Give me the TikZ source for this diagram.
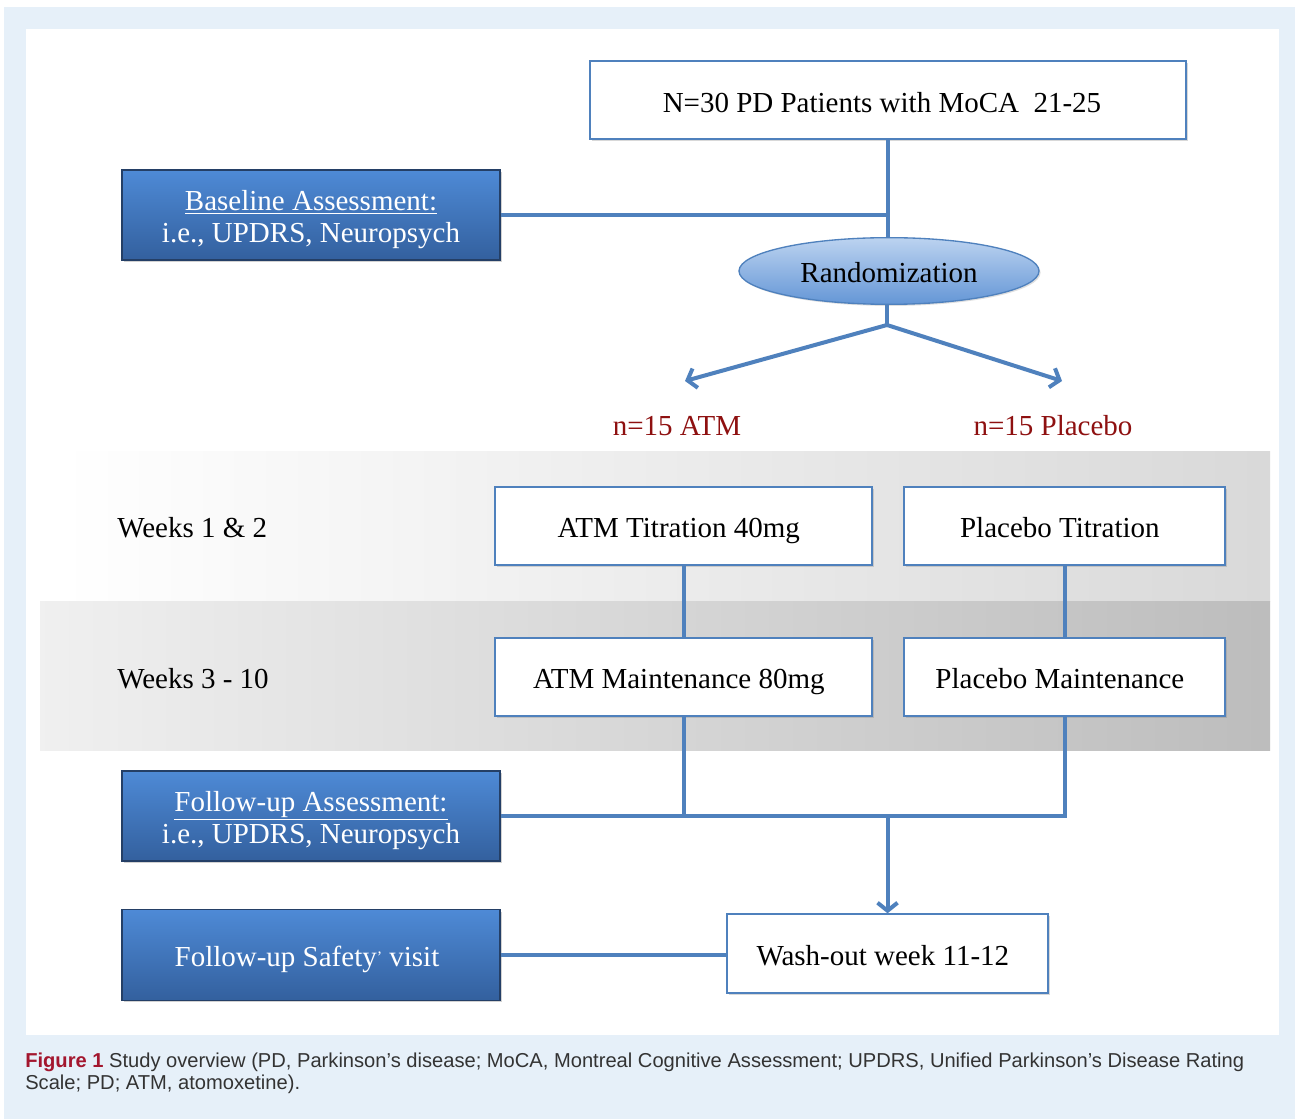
\documentclass[tikz,border=0pt]{standalone}
\usepackage{fontspec}
\setmainfont{Liberation Serif}
\newfontfamily\capfont{Liberation Sans}
\usetikzlibrary{shapes.geometric,arrows.meta,shadows,calc}
\definecolor{bgblue}{HTML}{E6F0F9}
\definecolor{lineblue}{HTML}{4F81BD}
\definecolor{darkedge}{HTML}{243F66}
\definecolor{boxtop}{HTML}{4E8AD6}
\definecolor{boxbot}{HTML}{33609E}
\definecolor{elltop}{HTML}{BCD3F0}
\definecolor{ellbot}{HTML}{6496D6}
\definecolor{nred}{HTML}{8E1010}
\definecolor{figred}{HTML}{A3162E}
\definecolor{captext}{HTML}{333333}
\begin{document}
\begin{tikzpicture}[x=0.75pt,y=-0.75pt,
  mainfont/.style={font=\fontsize{21.75}{24}\selectfont},
  whitebox/.style={rectangle, draw=lineblue, line width=1.3pt, fill=white, inner sep=0pt, mainfont,
    text height=17.4pt, text depth=0pt, execute at end node={\hspace*{7pt}},
    drop shadow={shadow xshift=1.5pt, shadow yshift=-1.5pt, opacity=0.3}},
  bluebox/.style={rectangle, draw=darkedge, line width=1pt, top color=boxtop, bottom color=boxbot,
    text=white, align=center, inner sep=0pt, mainfont,
    minimum width=283.5pt, minimum height=67.5pt, text height=41.5pt, text depth=0pt,
    drop shadow={shadow xshift=1.5pt, shadow yshift=-1.5pt, opacity=0.35}},
  conn/.style={draw=lineblue, line width=3pt},
  arr/.style={conn, -{Straight Barb[length=6pt,width=15pt]}},
  grouplabel/.style={text=nred, mainfont, inner sep=0pt},
  weeklabel/.style={anchor=west, mainfont, inner sep=0pt}]
\useasboundingbox (0,0) rectangle (1295,1119);
\fill[white] (0,0) rectangle (1295,1119);
\fill[bgblue] (4,7) rectangle (1295,1119);
\fill[white] (26,29) rectangle (1279,1035);
% bands
\shade[left color=white, right color=black!15] (60,452) rectangle (1270,601);
\shade[left color=black!6, right color=black!26] (40,601) rectangle (1270,750);

% nodes
\node[whitebox, minimum width=447pt, minimum height=58.5pt, text height=18.5pt] (top) at (888,100) {N=30 PD Patients with MoCA\ \ 21-25\hspace*{2pt}};
\node[bluebox] (base) at (311,215) {\underline{Baseline Assessment:}\\i.e., UPDRS, Neuropsych};
\node[ellipse, draw=lineblue, line width=1pt, top color=elltop, bottom color=ellbot, minimum width=225pt, minimum height=50pt, inner sep=0pt, mainfont,
  text height=17.4pt, text depth=0pt,
  drop shadow={shadow xshift=1.2pt, shadow yshift=-1.2pt, opacity=0.25}] (rand) at (889,271) {Randomization};
\coordinate (split) at (887,325);
\coordinate (tipL) at (685,381);
\coordinate (tipR) at (1062,381);
\node[grouplabel] (nA) at (677,426) {n=15 ATM};
\node[grouplabel] (nP) at (1053,426) {n=15 Placebo};
\node[weeklabel] (w1) at (117,528) {Weeks 1 \& 2};
\node[weeklabel] (w2) at (117,679) {Weeks 3 - 10};
\node[whitebox, minimum width=283pt, minimum height=58.5pt] (atm1) at (683.5,526) {ATM Titration 40mg};
\node[whitebox, minimum width=241pt, minimum height=58.5pt] (pla1) at (1064.5,526) {Placebo Titration};
\node[whitebox, minimum width=283pt, minimum height=58.5pt] (atm2) at (683.5,677) {ATM Maintenance 80mg};
\node[whitebox, minimum width=241pt, minimum height=58.5pt] (pla2) at (1064.5,677) {Placebo Maintenance};
\node[bluebox] (fu) at (311,816) {\underline{Follow-up Assessment:}\\i.e., UPDRS, Neuropsych};
\node[bluebox, minimum height=68pt, text height=17.7pt] (safe) at (311,955) {Follow-up Safety{\fontsize{12}{12}\selectfont\raisebox{3.5pt}{\char"0027}} visit\hspace*{6pt}};
\node[whitebox, minimum width=241pt, minimum height=59pt] (wash) at (887.5,953.5) {Wash-out week 11-12};

% connectors
\draw[conn] (top.south) -- (top.south |- rand.north);
\draw[conn] (base.east) -- (base.east -| top.south);
\draw[conn] (rand.south -| split) -- (split);
\draw[arr] (split) -- (tipL);
\draw[arr] (split) -- (tipR);
\draw[conn] (atm1.south) -- (atm2.north);
\draw[conn] (pla1.south) -- (pla2.north);
\draw[conn] (atm2.south) -- (atm2.south |- fu.east);
\draw[conn] (fu.east) -- (fu.east -| pla2.south) -- (pla2.south);
\draw[arr] (fu.east -| wash.north) -- (wash.north);
\draw[conn] (safe.east) -- (safe.east -| wash.west);

% caption
\node[anchor=north west, align=left, inner sep=0pt, text=captext,
  font=\capfont\fontsize{15.1}{16.5}\selectfont] (cap) at (25,1053)
  {{\color{figred}\bfseries Figure 1} Study overview (PD, Parkinson’s disease; MoCA, Montreal Cognitive Assessment; UPDRS, Unified Parkinson’s Disease Rating\\Scale; PD; ATM, atomoxetine).};
\end{tikzpicture}
\end{document}
